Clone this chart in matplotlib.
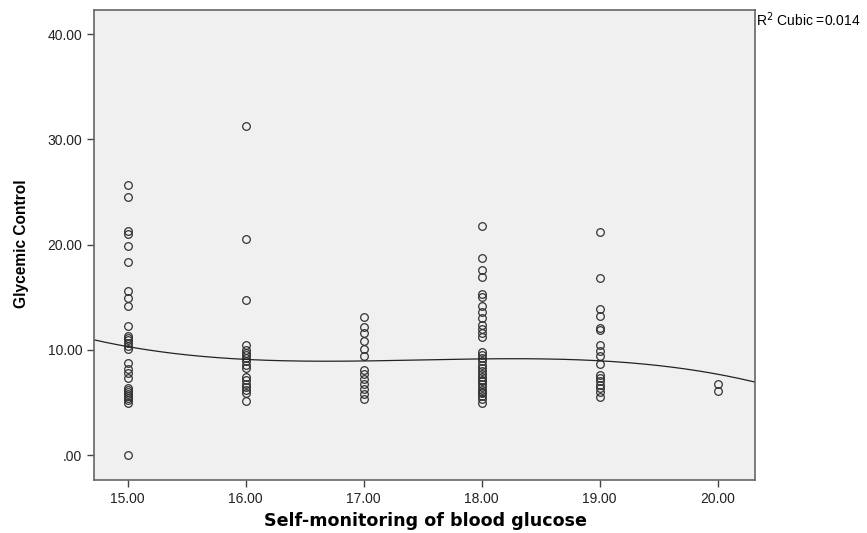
import numpy as np
import matplotlib
matplotlib.use("Agg")
import matplotlib.pyplot as plt

# Glycemic control values per self-monitoring score
smbg_levels = [15, 16, 17, 18, 19, 20]
glycemic_15 = [25.7, 24.5, 21.3, 21.0, 19.9, 18.3, 15.6, 14.9, 14.2, 12.3, 11.3, 11.1,
               10.9, 10.7, 10.4, 10.1, 8.8, 8.2, 7.8, 7.3, 6.4, 6.2, 6.0, 5.8, 5.6, 5.4,
               5.2, 5.0, 0.0]
glycemic_16 = [31.3, 20.5, 14.7, 10.5, 10.0, 9.7, 9.5, 9.2, 8.9, 8.6, 8.3, 7.4, 7.1,
               6.8, 6.5, 6.2, 5.9, 5.1]
glycemic_17 = [13.1, 12.2, 11.6, 10.8, 10.1, 9.4, 8.1, 7.7, 7.2, 6.8, 6.3, 5.8, 5.3]
glycemic_18 = [21.8, 18.7, 17.6, 16.9, 15.3, 15.0, 14.2, 13.6, 13.0, 12.4, 12.0, 11.6,
               11.2, 9.8, 9.5, 9.2, 8.9, 8.6, 8.3, 8.0, 7.7, 7.4, 7.1, 7.0, 6.8, 6.5,
               6.2, 6.0, 5.9, 5.6, 5.3, 5.0]
glycemic_19 = [21.2, 16.8, 13.9, 13.2, 12.1, 11.9, 10.5, 9.9, 9.4, 8.7, 7.6, 7.3, 7.0,
               6.7, 6.4, 6.0, 5.5]
glycemic_20 = [6.8, 6.1]
groups = [glycemic_15, glycemic_16, glycemic_17, glycemic_18, glycemic_19, glycemic_20]

# cubic fit line
fit_x = [14.714, 15, 16, 17, 18, 19, 20, 20.316]
fit_y = [10.9, 10.4, 9.05, 8.95, 9.15, 9.0, 7.6, 7.0]

x_ticks = [15, 16, 17, 18, 19, 20]
y_ticks = [0, 10, 20, 30, 40]
r2_label = "R$^2$ Cubic =0.014"

xs = np.concatenate([[lvl] * len(g) for lvl, g in zip(smbg_levels, groups)]).astype(float)
ys = np.concatenate(groups)

fig = plt.figure(figsize=(8.67, 5.33), dpi=100)
ax = fig.add_axes([0.1084, 0.0994, 0.7624, 0.8818])
ax.set_facecolor("#f0f0f0")

ax.plot(xs, ys, linestyle="none", marker="o", markersize=5.5, markerfacecolor="none",
        markeredgecolor="#333333", markeredgewidth=0.9)

coef = np.polyfit(fit_x, fit_y, 3)
xline = np.linspace(fit_x[0], fit_x[-1], 200)
ax.plot(xline, np.polyval(coef, xline), color="#222222", linewidth=0.9)

ax.set_xlim(14.714, 20.316)
ax.set_ylim(-2.36, 42.28)
ax.set_xticks(x_ticks)
ax.set_xticklabels([f"{v:.2f}" for v in x_ticks])
ax.set_yticks(y_ticks)
ax.set_yticklabels([".00" if v == 0 else f"{v:.2f}" for v in y_ticks])
ax.tick_params(direction="out", length=5, width=1, color="#444444", labelsize=10,
               labelcolor="#222222")
for lbl in ax.get_xticklabels() + ax.get_yticklabels():
    lbl.set_family("Liberation Sans")
for sp in ax.spines.values():
    sp.set_color("#666666")
    sp.set_linewidth(1.2)

ax.set_xlabel("Self-monitoring of blood glucose", fontsize=12.6, fontweight="bold",
              family="DejaVu Sans", va="center")
ax.xaxis.set_label_coords(0.5008, -0.0866)
ax.set_ylabel("Glycemic Control", fontsize=11.2, fontweight="bold",
              family=["Liberation Sans Narrow", "Liberation Sans"], va="center")
ax.yaxis.set_label_coords(-0.109, 0.503)

fig.text(0.872, 0.963, r2_label, fontsize=10, family="Liberation Sans", va="center", ha="left")

fig.savefig("out.png", dpi=100, facecolor="white")
